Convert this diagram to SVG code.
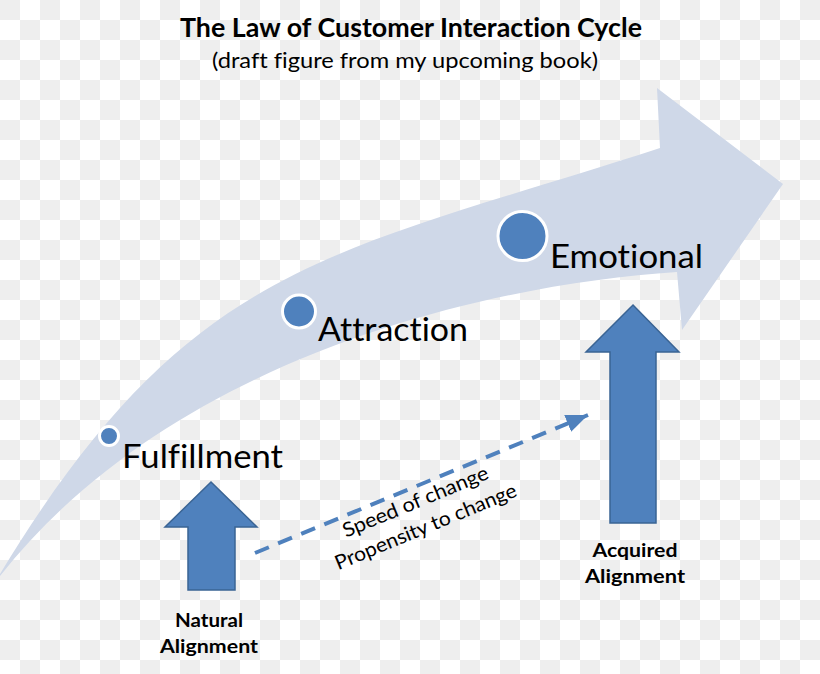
<svg xmlns="http://www.w3.org/2000/svg" width="820" height="674" viewBox="0 0 820 674">
  <defs>
    <pattern id="checker" width="40" height="40" patternUnits="userSpaceOnUse">
      <rect x="0" y="0" width="40" height="40" fill="#ffffff"/>
      <rect x="0" y="0" width="20" height="20" fill="#eeeeee"/>
      <rect x="20" y="20" width="20" height="20" fill="#eeeeee"/>
    </pattern>
    <marker id="dashHead" markerUnits="userSpaceOnUse" markerWidth="24" markerHeight="20" refX="22" refY="10" orient="auto">
      <path d="M0,1 L22,10 L0,19 Z" fill="#4f81bd"/>
    </marker>
    <style>
      text { font-variant-ligatures: none; font-feature-settings: "liga" 0; }
      .dot { fill: #4f81bd; stroke: #ffffff; stroke-width: 3; }
      .stage { font-family: Lato, "Open Sans", "Liberation Sans", sans-serif; font-size: 32px; fill: #000000; }
      .block { fill: #4f81bd; stroke: #3a6494; stroke-width: 1.5; stroke-linejoin: miter; }
      .label { font-family: Lato, "Open Sans", "Liberation Sans", sans-serif; font-weight: bold; font-size: 19px; fill: #000000; text-anchor: middle; }
      .dashlabel { font-family: Lato, "Open Sans", "Liberation Sans", sans-serif; font-size: 20px; fill: #000000; text-anchor: middle; }
    </style>
  </defs>

  <rect x="0" y="0" width="820" height="674" fill="url(#checker)"/>

  <g id="title">
    <text x="411" y="37" text-anchor="middle" font-family="Lato, 'Open Sans', 'Liberation Sans', sans-serif" font-weight="bold" font-size="26" textLength="462" lengthAdjust="spacingAndGlyphs">The Law of Customer Interaction Cycle</text>
    <text x="405" y="68" text-anchor="middle" font-family="Lato, 'Open Sans', 'Liberation Sans', sans-serif" font-size="22" textLength="386" lengthAdjust="spacingAndGlyphs">(draft figure from my upcoming book)</text>
  </g>

  <g id="cycle-arrow">
    <path d="M0,574 C190,260 330,255 660,148 L657,88 L783,184 L682,330 L677,272 C480,285 170,360 0,576 Z" fill="#cfd8e8"/>
  </g>

  <g id="fulfillment">
    <circle class="dot" cx="109" cy="436" r="9.5"/>
    <text class="stage" x="122" y="468" textLength="161" lengthAdjust="spacingAndGlyphs">Fulfillment</text>
  </g>

  <g id="attraction">
    <circle class="dot" cx="299" cy="311.5" r="16.5"/>
    <text class="stage" x="318" y="341" textLength="150" lengthAdjust="spacingAndGlyphs">Attraction</text>
  </g>

  <g id="emotional">
    <circle class="dot" cx="522.5" cy="236" r="24.5"/>
    <text class="stage" x="550" y="268" textLength="153" lengthAdjust="spacingAndGlyphs">Emotional</text>
  </g>

  <g id="natural-alignment">
    <path class="block" d="M211,482 L257,527 L235,527 L235,590 L188,590 L188,527 L165,527 Z"/>
    <text class="label" x="209" y="627" textLength="68" lengthAdjust="spacingAndGlyphs">Natural</text>
    <text class="label" x="209" y="653" textLength="98" lengthAdjust="spacingAndGlyphs">Alignment</text>
  </g>

  <g id="acquired-alignment">
    <path class="block" d="M633,305 L679,352 L656,352 L656,523 L610,523 L610,352 L586,352 Z"/>
    <text class="label" x="635" y="557" textLength="85" lengthAdjust="spacingAndGlyphs">Acquired</text>
    <text class="label" x="635" y="583" textLength="100" lengthAdjust="spacingAndGlyphs">Alignment</text>
  </g>

  <g id="connectors">
    <line x1="255" y1="553" x2="588" y2="415" stroke="#4f81bd" stroke-width="4" stroke-dasharray="15,10" marker-end="url(#dashHead)"/>
    <g transform="translate(418,508) rotate(-22.5)">
      <text class="dashlabel" x="0" y="0" textLength="156" lengthAdjust="spacingAndGlyphs">Speed of change</text>
      <text class="dashlabel" x="0" y="27" textLength="195" lengthAdjust="spacingAndGlyphs">Propensity to change</text>
    </g>
  </g>
</svg>
